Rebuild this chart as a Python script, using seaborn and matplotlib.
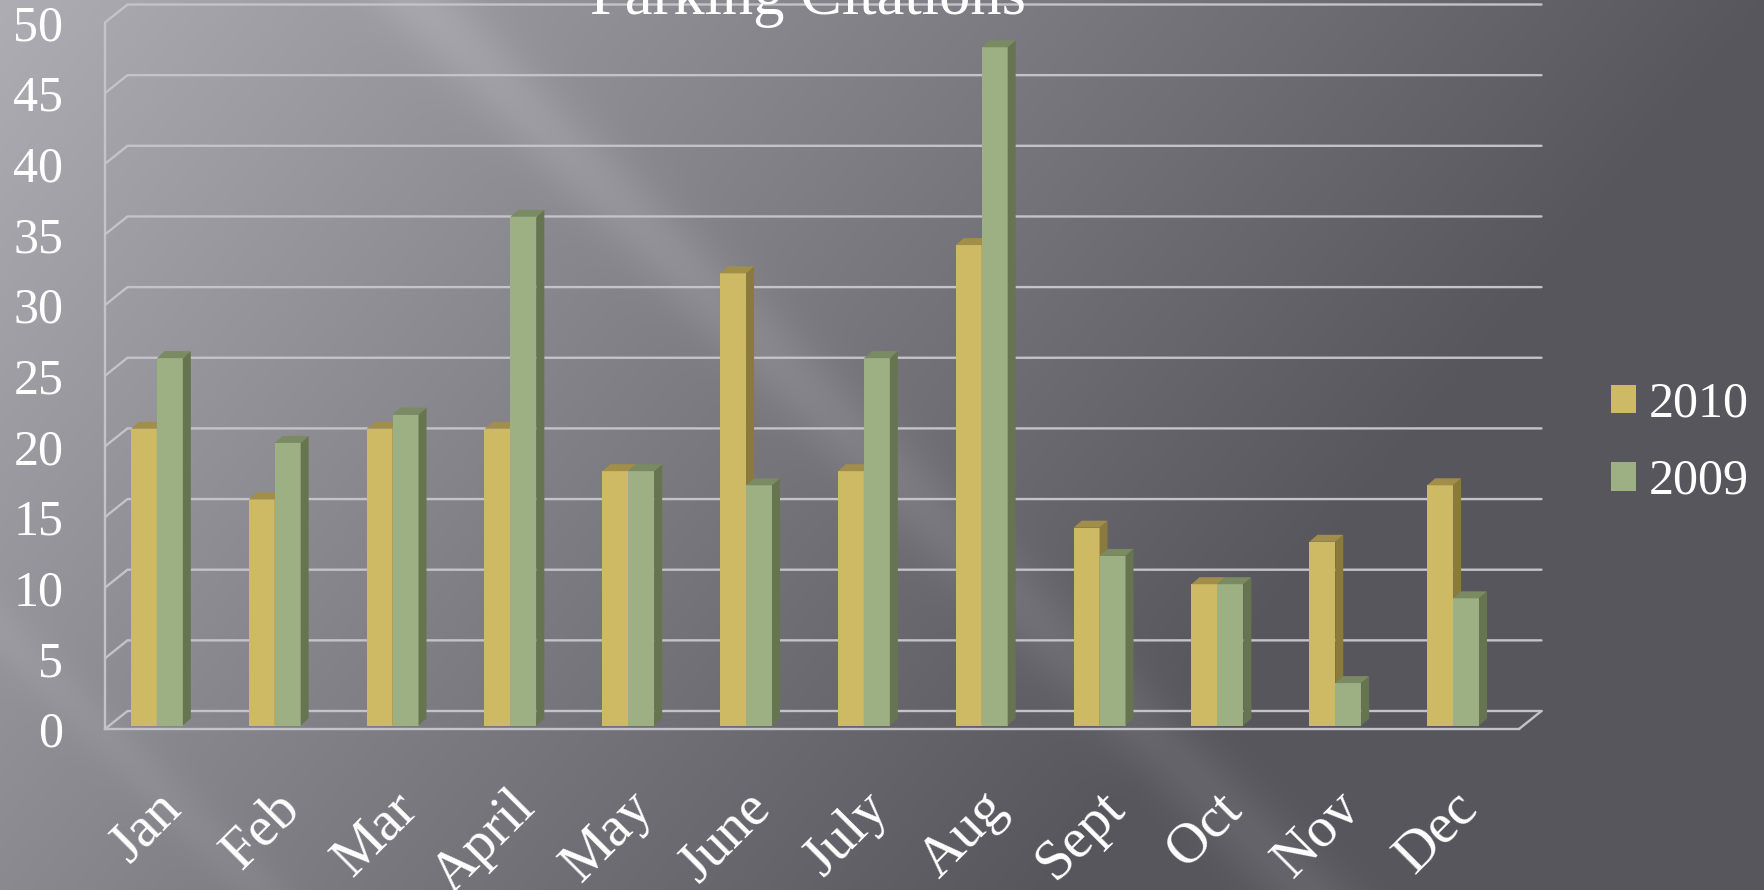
import numpy as np
import pandas as pd
import matplotlib
matplotlib.use("Agg")
import matplotlib.pyplot as plt
from matplotlib.patches import Polygon, Patch
from matplotlib.transforms import ScaledTranslation
import seaborn as sns

# ---- data ----
months = ["Jan", "Feb", "Mar", "April", "May", "June", "July", "Aug", "Sept", "Oct", "Nov", "Dec"]
citations_2010 = [21, 16, 21, 21, 18, 32, 18, 34, 14, 10, 13, 17]
citations_2009 = [26, 20, 22, 36, 18, 17, 26, 48, 12, 10, 3, 9]
years = ["2010", "2009"]
y_ticks = [0, 5, 10, 15, 20, 25, 30, 35, 40, 45, 50]

df = pd.DataFrame({
    "month": months * 2,
    "year": [years[0]] * len(months) + [years[1]] * len(months),
    "citations": citations_2010 + citations_2009,
})

palette = {"2010": "#CEB964", "2009": "#9DB084"}
side_colors = {"2010": "#8A7A3E", "2009": "#667550"}
top_colors = {"2010": "#A08E4A", "2009": "#7A8A62"}
grid_c = "#C4C3C8"

W, H, DPI = 1764, 890, 100
sns.set_style("white")
plt.rcParams["font.family"] = ["Liberation Serif", "DejaVu Serif"]

fig = plt.figure(figsize=(W / DPI, H / DPI), dpi=DPI)

# ---- gray gradient background with diagonal light streaks ----
yy, xx = np.mgrid[0:H, 0:W] / 1.125
b = np.maximum(175 - 0.055 * xx - 0.045 * yy, 88)
s = xx - yy
b = b + 14 * np.exp(-((s - 370) / 45) ** 2) + 7 * np.exp(-((s + 560) / 30) ** 2)
img = np.clip(np.dstack([b, b - 2, b + 5]) / 255, 0, 1)
fig.figimage(img, 0, 0, origin="upper", zorder=-10)

ax = fig.add_axes([105 / W, 161 / H, 1414 / W, 706.5 / H])
ax.set_facecolor("none")

sns.barplot(data=df, x="month", y="citations", hue="year", hue_order=years,
            palette=palette, width=0.44, saturation=1, linewidth=0,
            legend=False, ax=ax)

ax.set_xlim(-0.5, 11.5)
ax.set_ylim(0, 50)
ax.set_xlabel("")
ax.set_ylabel("")

px_x = 1414 / 12   # pixels per category
px_y = 706.5 / 50  # pixels per unit

# back wall grid (pseudo 3D)
gx, gy = 22.5 / px_x, 18 / px_y
for v in y_ticks:
    ax.plot([-0.5, -0.5 + gx, 11.5 + gx], [v, v + gy, v + gy],
            color=grid_c, lw=1.7, clip_on=False, zorder=1)
ax.plot([11.5, 11.5 + gx], [0, gy], color=grid_c, lw=1.7, clip_on=False, zorder=1)

# pseudo 3D bars
shift = ax.transData + ScaledTranslation(-7 / DPI, 3.5 / DPI, fig.dpi_scale_trans)
ddx, ddy = 8 / px_x, 7 / px_y
for z, (year, container) in enumerate(zip(years, ax.containers)):
    for bar in container:
        bar.set_transform(shift)
        bar.set_zorder(3 + z)
        x0 = bar.get_x()
        x1 = x0 + bar.get_width()
        h = bar.get_height()
        side = Polygon([(x1, 0), (x1 + ddx, ddy), (x1 + ddx, h + ddy), (x1, h)],
                       closed=True, facecolor=side_colors[year], lw=0,
                       transform=shift, zorder=3 + z, clip_on=False)
        top = Polygon([(x0, h), (x0 + ddx, h + ddy), (x1 + ddx, h + ddy), (x1, h)],
                      closed=True, facecolor=top_colors[year], lw=0,
                      transform=shift, zorder=3 + z, clip_on=False)
        ax.add_patch(side)
        ax.add_patch(top)

# axes lines and ticks
for name in ["top", "right"]:
    ax.spines[name].set_visible(False)
for name in ["left", "bottom"]:
    ax.spines[name].set_color(grid_c)
    ax.spines[name].set_linewidth(1.7)

ax.set_yticks(y_ticks)
ax.tick_params(axis="y", length=8, width=1.5, color=grid_c, pad=22,
               labelsize=36, labelcolor="white", direction="out")

ax.set_xticks(range(len(months)))
ax.set_xticklabels(months, rotation=45, ha="right", rotation_mode="anchor")
ax.set_xticks(np.arange(-0.5, len(months), 1), minor=True)
ax.tick_params(axis="x", which="major", length=0, pad=38, labelsize=41,
               labelcolor="white")
ax.tick_params(axis="x", which="minor", length=10, width=1.5, color=grid_c,
               direction="out")
label_shift = ScaledTranslation(-9 / DPI, 0, fig.dpi_scale_trans)
for lbl in ax.get_xticklabels():
    lbl.set_transform(lbl.get_transform() + label_shift)

fig.text(808 / W, 1 - 13.5 / H, "Parking Citations", ha="center", va="baseline",
         color="white", fontsize=45)

handles = [Patch(facecolor=palette[y], edgecolor="none", lw=0) for y in years]
fig.legend(handles, years, loc="center left", bbox_to_anchor=(1611 / W, 1 - 443 / H),
           frameon=False, fontsize=36, handlelength=0.5, handleheight=0.5,
           handletextpad=0.25, labelspacing=0.62, borderpad=0, borderaxespad=0,
           labelcolor="white")

fig.savefig("out.png", dpi=DPI)
